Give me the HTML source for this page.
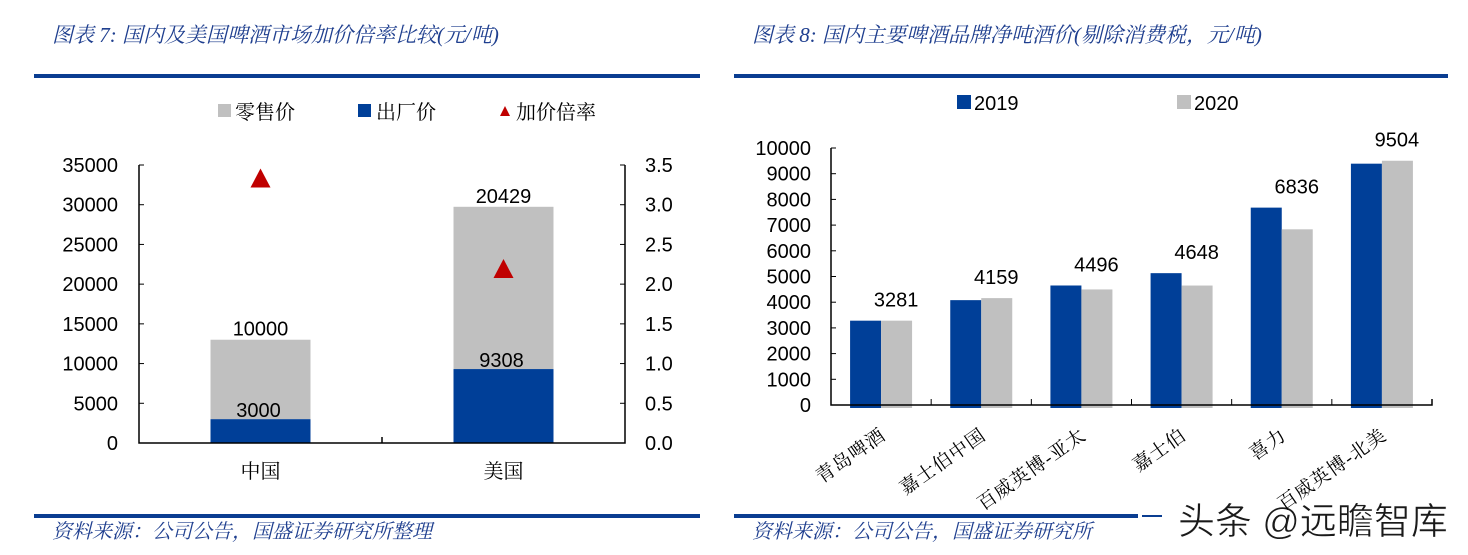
<!DOCTYPE html>
<html><head><meta charset="utf-8"><style>
html,body{margin:0;padding:0;background:#fff;width:1468px;height:555px;overflow:hidden}
svg{display:block;font-family:"Liberation Sans","Noto Sans CJK SC",sans-serif}
.t{font-family:"Liberation Serif","Noto Serif CJK SC",serif;font-style:italic;fill:#1f3f8f}
.cj{font-family:"Liberation Serif","Noto Serif CJK SC",serif}
</style></head><body>
<svg width="1468" height="555" viewBox="0 0 1468 555">
<text class="t" x="52" y="42" font-size="21">图表 7:  国内及美国啤酒市场加价倍率比较(元/吨)</text>
<rect x="34" y="74" width="666" height="4" fill="#0a3d91"/>
<text class="t" x="752" y="42" font-size="21">图表 8:  国内主要啤酒品牌净吨酒价(剔除消费税，元/吨)</text>
<rect x="734" y="74" width="714" height="4" fill="#0a3d91"/>
<rect x="34" y="514" width="666" height="4" fill="#0a3d91"/>
<text class="t" x="52" y="538" font-size="20">资料来源：公司公告，国盛证券研究所整理</text>
<rect x="734" y="514" width="404" height="4" fill="#0a3d91"/>
<rect x="1142" y="515" width="20" height="2" fill="#0a3d91"/>
<text class="t" x="752" y="538" font-size="20">资料来源：公司公告，国盛证券研究所</text>
<text x="1178" y="534" font-size="37" fill="#1a1a1a" stroke="#fff" stroke-width="0.6">头条 @远瞻智库</text>
<g id="c7"></g>
<g id="c8"></g>
</svg>
<script>
const NS='http://www.w3.org/2000/svg';
function mk(p,tag,a,txt){const e=document.createElementNS(NS,tag);for(const k in a)e.setAttribute(k,a[k]);if(txt!==undefined)e.textContent=txt;p.appendChild(e);return e;}
// ---------- chart 7 ----------
const c7Cats=['中国','美国'];
const c7Factory=[3000,9308];
const c7Markup=[10000,20429];
const c7Ratio=[3.33,2.19];
const c7LeftTicks=[0,5000,10000,15000,20000,25000,30000,35000];
const c7RightTicks=['0.0','0.5','1.0','1.5','2.0','2.5','3.0','3.5'];
const g7=document.getElementById('c7');
const L7=139,R7=625,T7=165,B7=443;
const y7=v=>B7-(v/35000)*(B7-T7);
const yr7=v=>B7-(v/3.5)*(B7-T7);
const x7=i=>L7+(R7-L7)*(i+0.5)/c7Cats.length;
c7LeftTicks.forEach(v=>{
 let t=mk(g7,'text',{x:118,y:y7(v)+7,'font-size':20,'text-anchor':'end',fill:'#000'},String(v));
 
 let l=mk(g7,'line',{x1:L7,x2:L7+5,y1:y7(v),y2:y7(v),stroke:'#000'});
 
});
c7RightTicks.forEach(s=>{
 const v=parseFloat(s);
 let t=mk(g7,'text',{x:645,y:yr7(v)+7,'font-size':20,fill:'#000'},s);
 
 let l=mk(g7,'line',{x1:R7-5,x2:R7,y1:yr7(v),y2:yr7(v),stroke:'#000'});
 
});
c7Cats.forEach((c,i)=>{
 const cx=x7(i),w=100,tot=c7Factory[i]+c7Markup[i];
 let g=mk(g7,'rect',{x:cx-w/2,y:y7(tot),width:w,height:y7(c7Factory[i])-y7(tot),fill:'#c0c0c0'});
 
 let b=mk(g7,'rect',{x:cx-w/2,y:y7(c7Factory[i]),width:w,height:B7-y7(c7Factory[i]),fill:'#003f98'});
 
 let t1=mk(g7,'text',{x:cx,y:y7(tot)-4,'font-size':20,'text-anchor':'middle'},String(c7Markup[i]));
 
 let t2=mk(g7,'text',{x:cx-2,y:y7(c7Factory[i])-2,'font-size':20,'text-anchor':'middle'},String(c7Factory[i]));
 
 const ry=yr7(c7Ratio[i]);
 let tr=mk(g7,'polygon',{points:`${cx},${ry-10} ${cx-10},${ry+9} ${cx+10},${ry+9}`,fill:'#c00000'});
 
 let cl=mk(g7,'text',{x:cx,y:478,'font-size':20,'text-anchor':'middle',class:'cj'},c);
 
});
let ax=mk(g7,'path',{d:`M${L7},${T7}V${B7}H${R7}V${T7} M${(L7+R7)/2},${B7}v-6`,fill:'none',stroke:'#000','stroke-width':1.5});

let lg=mk(g7,'g',{});
let e1=mk(lg,'rect',{x:218,y:104,width:13,height:13,fill:'#c0c0c0'});
let e2=mk(lg,'text',{x:235,y:119,'font-size':20,class:'cj'},'零售价');
let e3=mk(lg,'rect',{x:358,y:104,width:13,height:13,fill:'#003f98'});
let e4=mk(lg,'text',{x:376,y:119,'font-size':20,class:'cj'},'出厂价');
let e5=mk(lg,'polygon',{points:'505,106 500,116 510,116',fill:'#c00000'});
let e6=mk(lg,'text',{x:516,y:119,'font-size':20,class:'cj'},'加价倍率');
// ---------- chart 8 ----------
const c8Cats=['青岛啤酒','嘉士伯中国','百威英博-亚太','嘉士伯','喜力','百威英博-北美'];
const c8Y2019=[3281,4080,4650,5130,7680,9390];
const c8Y2020=[3281,4159,4496,4648,6836,9504];
const c8Ticks=[0,1000,2000,3000,4000,5000,6000,7000,8000,9000,10000];
const g8=document.getElementById('c8');
const L8=831,R8=1432,T8=148,B8=405;
const y8=v=>B8-(v/10000)*(B8-T8);
const gw=(R8-L8)/c8Cats.length;
c8Ticks.forEach(v=>{
 let t=mk(g8,'text',{x:811,y:y8(v)+7,'font-size':20,'text-anchor':'end'},String(v));
 
 let l=mk(g8,'line',{x1:L8,x2:L8+5,y1:y8(v),y2:y8(v),stroke:'#000'});
 
});
c8Cats.forEach((c,i)=>{
 const cx=L8+gw*(i+0.5),w=31;
 let b=mk(g8,'rect',{x:cx-w,y:y8(c8Y2019[i]),width:w,height:B8-y8(c8Y2019[i])+3,fill:'#003f98'});
 
 let g=mk(g8,'rect',{x:cx,y:y8(c8Y2020[i]),width:w,height:B8-y8(c8Y2020[i])+3,fill:'#c0c0c0'});
 
 let t=mk(g8,'text',{x:cx+15,y:y8(Math.max(c8Y2019[i],c8Y2020[i]))-14,'font-size':20,'text-anchor':'middle'},String(c8Y2020[i]));
 
 const ex=cx+6,ey=438;
 let cl=mk(g8,'text',{x:ex,y:ey,'font-size':19,'letter-spacing':1,'text-anchor':'end',class:'cj',transform:`rotate(-35 ${ex} ${ey})`},c);
 
 if(i>0){let tk=mk(g8,'line',{x1:L8+gw*i,x2:L8+gw*i,y1:B8,y2:B8-6,stroke:'#000'});}
});
let ax8=mk(g8,'path',{d:`M${L8},${T8}V${B8}H${R8}v-6`,fill:'none',stroke:'#000','stroke-width':1.5});

let lg8=mk(g8,'g',{});
let f1=mk(lg8,'rect',{x:957,y:95,width:14,height:14,fill:'#003f98'});
let f2=mk(lg8,'text',{x:974,y:110,'font-size':20},'2019');
let f3=mk(lg8,'rect',{x:1177,y:95,width:14,height:14,fill:'#c0c0c0'});
let f4=mk(lg8,'text',{x:1194,y:110,'font-size':20},'2020');
</script>
</body></html>
